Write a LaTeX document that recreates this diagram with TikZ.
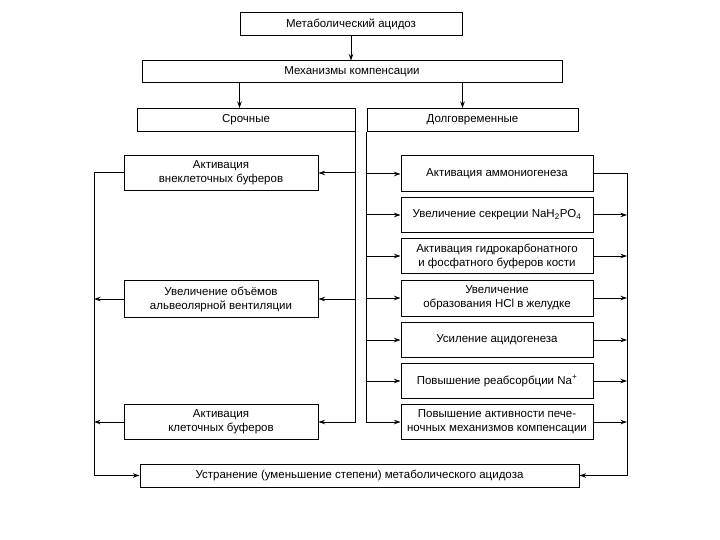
\documentclass[tikz,border=0pt]{standalone}
\usepackage{fontspec}
\setmainfont{Liberation Sans}
\usetikzlibrary{arrows.meta}

\begin{document}
\begin{tikzpicture}[x=1pt,y=-1pt,
  box/.style={draw,line width=1pt,minimum height=35pt,inner sep=1pt,
              font=\fontsize{11.5}{14}\selectfont,align=center},
  head/.style={box,minimum height=23pt},
  lbox/.style={box,minimum width=194pt},
  rbox/.style={box,minimum width=192pt},
  arr/.style={-{Stealth[length=6.5pt,width=4.5pt]},line width=1pt}
]
\useasboundingbox (0,0) rectangle (720,540);

% Top of the scheme
\node[head,minimum width=222pt] (metab) at (351,24.5) {Метаболический ацидоз};
\node[head,minimum width=420pt,minimum height=22pt] (mech) at (352,72) {Механизмы компенсации};
\node[head,minimum width=218pt] (sroch) at (246,120) {Срочные};
\node[head,minimum width=211pt] (dolg) at (472.5,120) {Долговременные};

% Urgent mechanisms
\node[lbox] (lb1) at (221,173) {Активация\\внеклеточных буферов};
\node[lbox,minimum height=37pt] (lb2) at (221,299) {Увеличение объёмов\\альвеолярной вентиляции};
\node[lbox] (lb3) at (221,422) {Активация\\клеточных буферов};

% Long-term mechanisms
\node[rbox,minimum height=36pt] (rb1) at (497,174) {Активация аммониогенеза};
\node[rbox] (rb2) at (497,215) {Увеличение секреции NaH\textsubscript{2}PO\textsubscript{4}};
\node[rbox] (rb3) at (497,256) {Активация гидрокарбонатного\\и фосфатного буферов кости};
\node[rbox,minimum height=36pt] (rb4) at (497,298) {Увеличение\\образования HCl в желудке};
\node[rbox] (rb5) at (497,340) {Усиление ацидогенеза};
\node[rbox] (rb6) at (497,381) {Повышение реабсорбции Na\textsuperscript{+}};
\node[rbox] (rb7) at (497,422) {Повышение активности пече-\\ночных механизмов компенсации};

% Result
\node[head,minimum width=439pt] (final) at (359.5,475.5) {Устранение (уменьшение степени) метаболического ацидоза};

% Outer rails
\coordinate (lx) at (94,0);
\coordinate (rx) at (627,0);

% Arrows
\draw[arr] (metab.south) -- (metab.south |- mech.north);
\draw[arr] (metab.west |- mech.south) -- (metab.west |- sroch.north);
\draw[arr] (metab.east |- mech.south) -- (metab.east |- dolg.north);

\draw[arr] (sroch.south east) |- (lb3.east);
\draw[arr] (sroch.south east |- lb1.east) -- (lb1.east);
\draw[arr] (sroch.south east |- lb2.east) -- (lb2.east);

\draw[arr] (lb1.west) -- (lb1.west -| lx) |- (final.west);
\draw[arr] (lb2.west) -- (lb2.west -| lx);
\draw[arr] (lb3.west) -- (lb3.west -| lx);

\draw[arr] (dolg.south west) |- (rb7.west);
\draw[arr] (dolg.south west |- rb1.west) -- (rb1.west);
\draw[arr] (dolg.south west |- rb2.west) -- (rb2.west);
\draw[arr] (dolg.south west |- rb3.west) -- (rb3.west);
\draw[arr] (dolg.south west |- rb4.west) -- (rb4.west);
\draw[arr] (dolg.south west |- rb5.west) -- (rb5.west);
\draw[arr] (dolg.south west |- rb6.west) -- (rb6.west);

\draw[arr] (rb1.east) -- (rb1.east -| rx) |- (final.east);
\draw[arr] (rb2.east) -- (rb2.east -| rx);
\draw[arr] (rb3.east) -- (rb3.east -| rx);
\draw[arr] (rb4.east) -- (rb4.east -| rx);
\draw[arr] (rb5.east) -- (rb5.east -| rx);
\draw[arr] (rb6.east) -- (rb6.east -| rx);
\draw[arr] (rb7.east) -- (rb7.east -| rx);

\end{tikzpicture}
\end{document}
